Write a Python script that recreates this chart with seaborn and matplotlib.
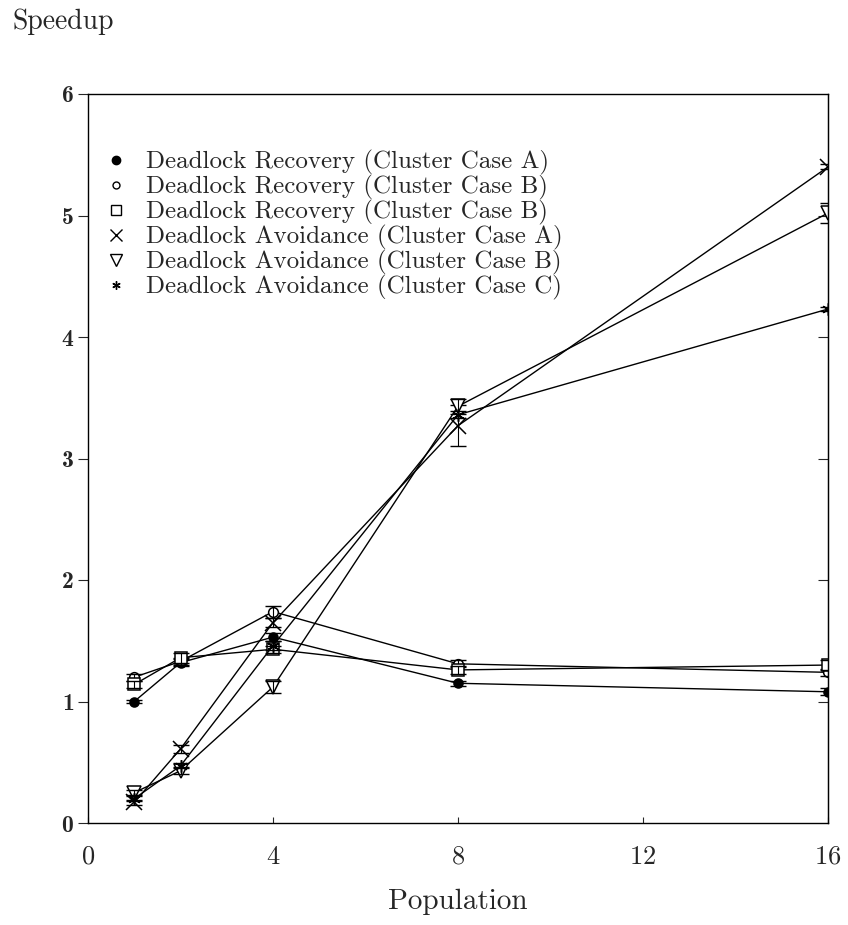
import matplotlib
matplotlib.use("Agg")
import matplotlib.pyplot as plt
from matplotlib.lines import Line2D
import seaborn as sns

# speedup vs population
population = [1, 2, 4, 8, 16]

dr_a = [1.00, 1.32, 1.53, 1.15, 1.08]
dr_b1 = [1.20, 1.33, 1.74, 1.31, 1.24]
dr_b2 = [1.14, 1.36, 1.43, 1.26, 1.30]
da_a = [0.17, 0.61, 1.65, 3.27, 5.40]
da_b = [0.25, 0.43, 1.12, 3.43, 5.02]
da_c = [0.20, 0.47, 1.46, 3.36, 4.23]

dr_a_err = [0.01, 0.03, 0.03, 0.02, 0.03]
dr_b1_err = [0.03, 0.03, 0.05, 0.03, 0.03]
dr_b2_err = [0.03, 0.04, 0.03, 0.03, 0.04]
da_a_err = [0.02, 0.03, 0.04, 0.17, 0.02]
da_b_err = [0.02, 0.03, 0.05, 0.06, 0.08]
da_c_err = [0.02, 0.02, 0.04, 0.03, 0.02]

labels = [
    "Deadlock Recovery (Cluster Case A)",
    "Deadlock Recovery (Cluster Case B)",
    "Deadlock Recovery (Cluster Case B)",
    "Deadlock Avoidance (Cluster Case A)",
    "Deadlock Avoidance (Cluster Case B)",
    "Deadlock Avoidance (Cluster Case C)",
]

sns.set_theme(style="ticks")
plt.rcParams["font.family"] = ["cmr10", "DejaVu Serif"]
plt.rcParams["axes.formatter.use_mathtext"] = True

fig = plt.figure(figsize=(8.48, 9.25), dpi=100)
ax = fig.add_axes([88 / 848, 1 - 823 / 925, 740 / 848, 729 / 925])

series = [dr_a, dr_b1, dr_b2, da_a, da_b, da_c]
errs = [dr_a_err, dr_b1_err, dr_b2_err, da_a_err, da_b_err, da_c_err]
asterisk = (6, 2, 0)
# marker, size, face colour, legend size
styles = [
    ("o", 6.5, "black", 6),
    ("o", 7, "white", 5),
    ("s", 8, "white", 7),
    ("x", 11, "black", 9),
    ("v", 10, "white", 9),
    (asterisk, 9, "black", 6),
]

handles = []
for vals, err, (m, ms, fc, lms), lab in zip(series, errs, styles, labels):
    sns.lineplot(x=population, y=vals, ax=ax, color="black", lw=1.0,
                 marker=m, markersize=ms, markerfacecolor=fc,
                 markeredgecolor="black", markeredgewidth=1.1)
    ax.errorbar(population, vals, yerr=err, fmt="none", ecolor="black",
                elinewidth=0.8, capsize=6, capthick=1.0, label="_nolegend_")
    handles.append(Line2D([], [], linestyle="none", marker=m, markersize=lms,
                          markerfacecolor=fc, markeredgecolor="black",
                          markeredgewidth=1.0, color="black"))

ax.legend(handles, labels, loc="upper left", bbox_to_anchor=(0.008, 0.937),
          frameon=False, fontsize=18, handlelength=1.0, handletextpad=0.7,
          labelspacing=0.0, borderaxespad=0)

ax.set_xlim(0, 16)
ax.set_ylim(0, 6)
ax.set_xticks([0, 4, 8, 12, 16])
ax.set_yticks([0, 1, 2, 3, 4, 5, 6])
ax.tick_params(axis="x", labelsize=19, length=4, width=0.8, direction="in", pad=16)
ax.tick_params(axis="y", labelsize=17, length=7, width=0.8, direction="out", pad=3)
for t in ax.get_yticklabels():
    t.set_fontfamily("cmb10")

right = ax.secondary_yaxis("right")
right.set_yticks([1, 2, 3, 4, 5])
right.tick_params(direction="in", length=7, width=0.8, labelright=False)

for s in ax.spines.values():
    s.set_color("black")
    s.set_linewidth(1.0)
right.spines["right"].set_linewidth(0.8)

ax.set_xlabel("Population", fontsize=21, labelpad=14)
ax.set_ylabel("")
fig.text(12 / 848, 1 - 22 / 925, "Speedup", fontsize=20, ha="left", va="center")

fig.savefig("out.png", dpi=100)
